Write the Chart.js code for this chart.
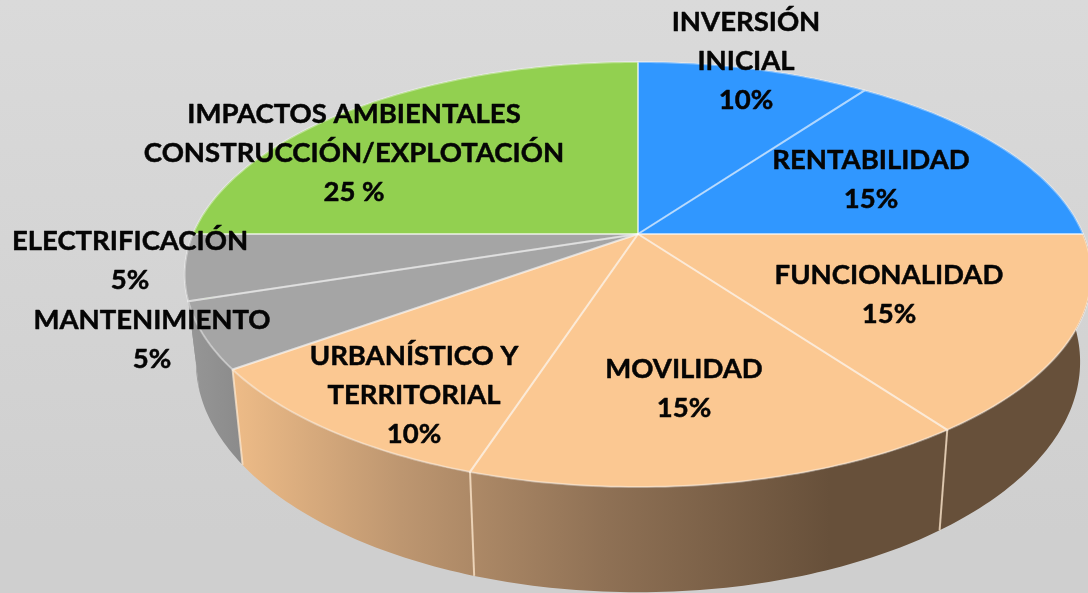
<!DOCTYPE html>
<html>
<head>
<meta charset="utf-8">
<style>html,body{margin:0;padding:0;background:#d6d6d6;overflow:hidden}canvas{display:block}</style>
<script src="https://cdn.jsdelivr.net/npm/chart.js@4"></script>
</head>
<body>
<canvas id="c" width="1088" height="593"></canvas>
<script>
const categories = [
  ["INVERSIÓN", "INICIAL"],
  ["RENTABILIDAD"],
  ["FUNCIONALIDAD"],
  ["MOVILIDAD"],
  ["URBANÍSTICO Y", "TERRITORIAL"],
  ["MANTENIMIENTO"],
  ["ELECTRIFICACIÓN"],
  ["IMPACTOS AMBIENTALES", "CONSTRUCCIÓN/EXPLOTACIÓN"]
];
const values = [10, 15, 15, 15, 10, 5, 5, 25];
const valueTexts = ["10%", "15%", "15%", "15%", "10%", "5%", "5%", "25 %"];
const sliceColors = ["#3097ff", "#3097ff", "#fbc892", "#fbc892", "#fbc892", "#a5a5a5", "#a5a5a5", "#92d050"];

// label anchor (centre x, first-line centre y)
const labelAnchors = [[746, 22], [871, 160], [889, 275], [684, 369], [414, 356], [152, 320], [130, 241], [354, 114]];
const LINE_H = 39;

// perspective projection of the pie disc
const G = { cx: 638, cy: 234, R: 445, S: 204.8, p: 0.1906, bR: 434, bCy: 318, bS: 222 };
const topPt = a => { const d = 1 - G.p * Math.sin(a); return [G.cx + G.R * Math.cos(a) / d, G.cy + G.S * Math.sin(a) / d]; };
const botPt = a => { const d = 1 - G.p * Math.sin(a); return [G.cx + G.bR * Math.cos(a) / d, G.bCy + G.bS * Math.sin(a) / d]; };
const samples = (s, e) => { const n = Math.max(4, Math.ceil((e - s) * 60)), o = []; for (let i = 0; i <= n; i++) o.push(s + (e - s) * i / n); return o; };

const pie3d = {
  id: 'pie3d',
  beforeDraw(chart) {
    const { ctx, width, height } = chart;
    const g = ctx.createLinearGradient(0, 0, 0, height);
    g.addColorStop(0, '#dadada');
    g.addColorStop(0.9, '#cfcfcf');
    g.addColorStop(1, '#cfcfcf');
    ctx.fillStyle = g;
    ctx.fillRect(0, 0, width, height);
  },
  beforeDatasetDraw(chart) {
    const ctx = chart.ctx;
    const arcs = chart.getDatasetMeta(0).data;
    const warm = ctx.createLinearGradient(235, 0, 830, 0);
    warm.addColorStop(0, '#edbb87');
    warm.addColorStop(0.28, '#bd9670');
    warm.addColorStop(0.62, '#8f7155');
    warm.addColorStop(1, '#67503a');
    const grey = ctx.createLinearGradient(190, 0, 245, 0);
    grey.addColorStop(0, '#969696');
    grey.addColorStop(1, '#8a8a8a');

    // side wall
    arcs.forEach((el, i) => {
      const col = el.options.backgroundColor;
      const pts = samples(el.startAngle, el.endAngle);
      ctx.beginPath();
      pts.forEach((a, k) => { const q = topPt(a); k ? ctx.lineTo(q[0], q[1]) : ctx.moveTo(q[0], q[1]); });
      pts.slice().reverse().forEach(a => { const q = botPt(a); ctx.lineTo(q[0], q[1]); });
      ctx.closePath();
      ctx.fillStyle = col === '#fbc892' ? warm : (col === '#a5a5a5' ? grey : col);
      ctx.fill();
    });
    // wall seams between front slices
    arcs.forEach(el => {
      const a = el.endAngle;
      if (Math.sin(a) > 0.35) {
        const t = topPt(a), b = botPt(a);
        ctx.beginPath();
        ctx.moveTo(t[0], t[1]);
        ctx.lineTo(b[0], b[1]);
        ctx.strokeStyle = 'rgba(255,232,205,0.75)';
        ctx.lineWidth = 2;
        ctx.stroke();
      }
    });
    // top faces
    arcs.forEach(el => {
      ctx.beginPath();
      ctx.moveTo(G.cx, G.cy);
      samples(el.startAngle, el.endAngle).forEach(a => { const q = topPt(a); ctx.lineTo(q[0], q[1]); });
      ctx.closePath();
      ctx.fillStyle = el.options.backgroundColor;
      ctx.fill();
    });
    // outlines
    arcs.forEach(el => {
      ctx.beginPath();
      ctx.moveTo(G.cx, G.cy);
      samples(el.startAngle, el.endAngle).forEach(a => { const q = topPt(a); ctx.lineTo(q[0], q[1]); });
      ctx.closePath();
      ctx.strokeStyle = 'rgba(255,255,255,0.38)';
      ctx.lineWidth = 2;
      ctx.lineJoin = 'round';
      ctx.stroke();
    });
    return false;
  },
  afterDatasetsDraw(chart) {
    const ctx = chart.ctx;
    ctx.save();
    ctx.fillStyle = '#050505';
    ctx.strokeStyle = '#050505';
    ctx.lineWidth = 0.5;
    ctx.lineJoin = 'round';
    ctx.font = 'bold 27.5px Lato';
    ctx.textAlign = 'center';
    ctx.textBaseline = 'middle';
    categories.forEach((lines, i) => {
      const [x, y] = labelAnchors[i];
      lines.concat(valueTexts[i]).forEach((t, k) => {
        ctx.fillText(t, x, y + k * LINE_H);
        ctx.strokeText(t, x, y + k * LINE_H);
      });
    });
    ctx.restore();
  }
};

new Chart(document.getElementById('c'), {
  type: 'pie',
  data: {
    labels: categories.map(l => l.join(' ')),
    datasets: [{ data: values, backgroundColor: sliceColors, borderWidth: 0 }]
  },
  options: {
    responsive: false,
    animation: false,
    layout: { padding: 0 },
    plugins: { legend: { display: false }, tooltip: { enabled: false } }
  },
  plugins: [pie3d]
});
</script>
</body>
</html>
